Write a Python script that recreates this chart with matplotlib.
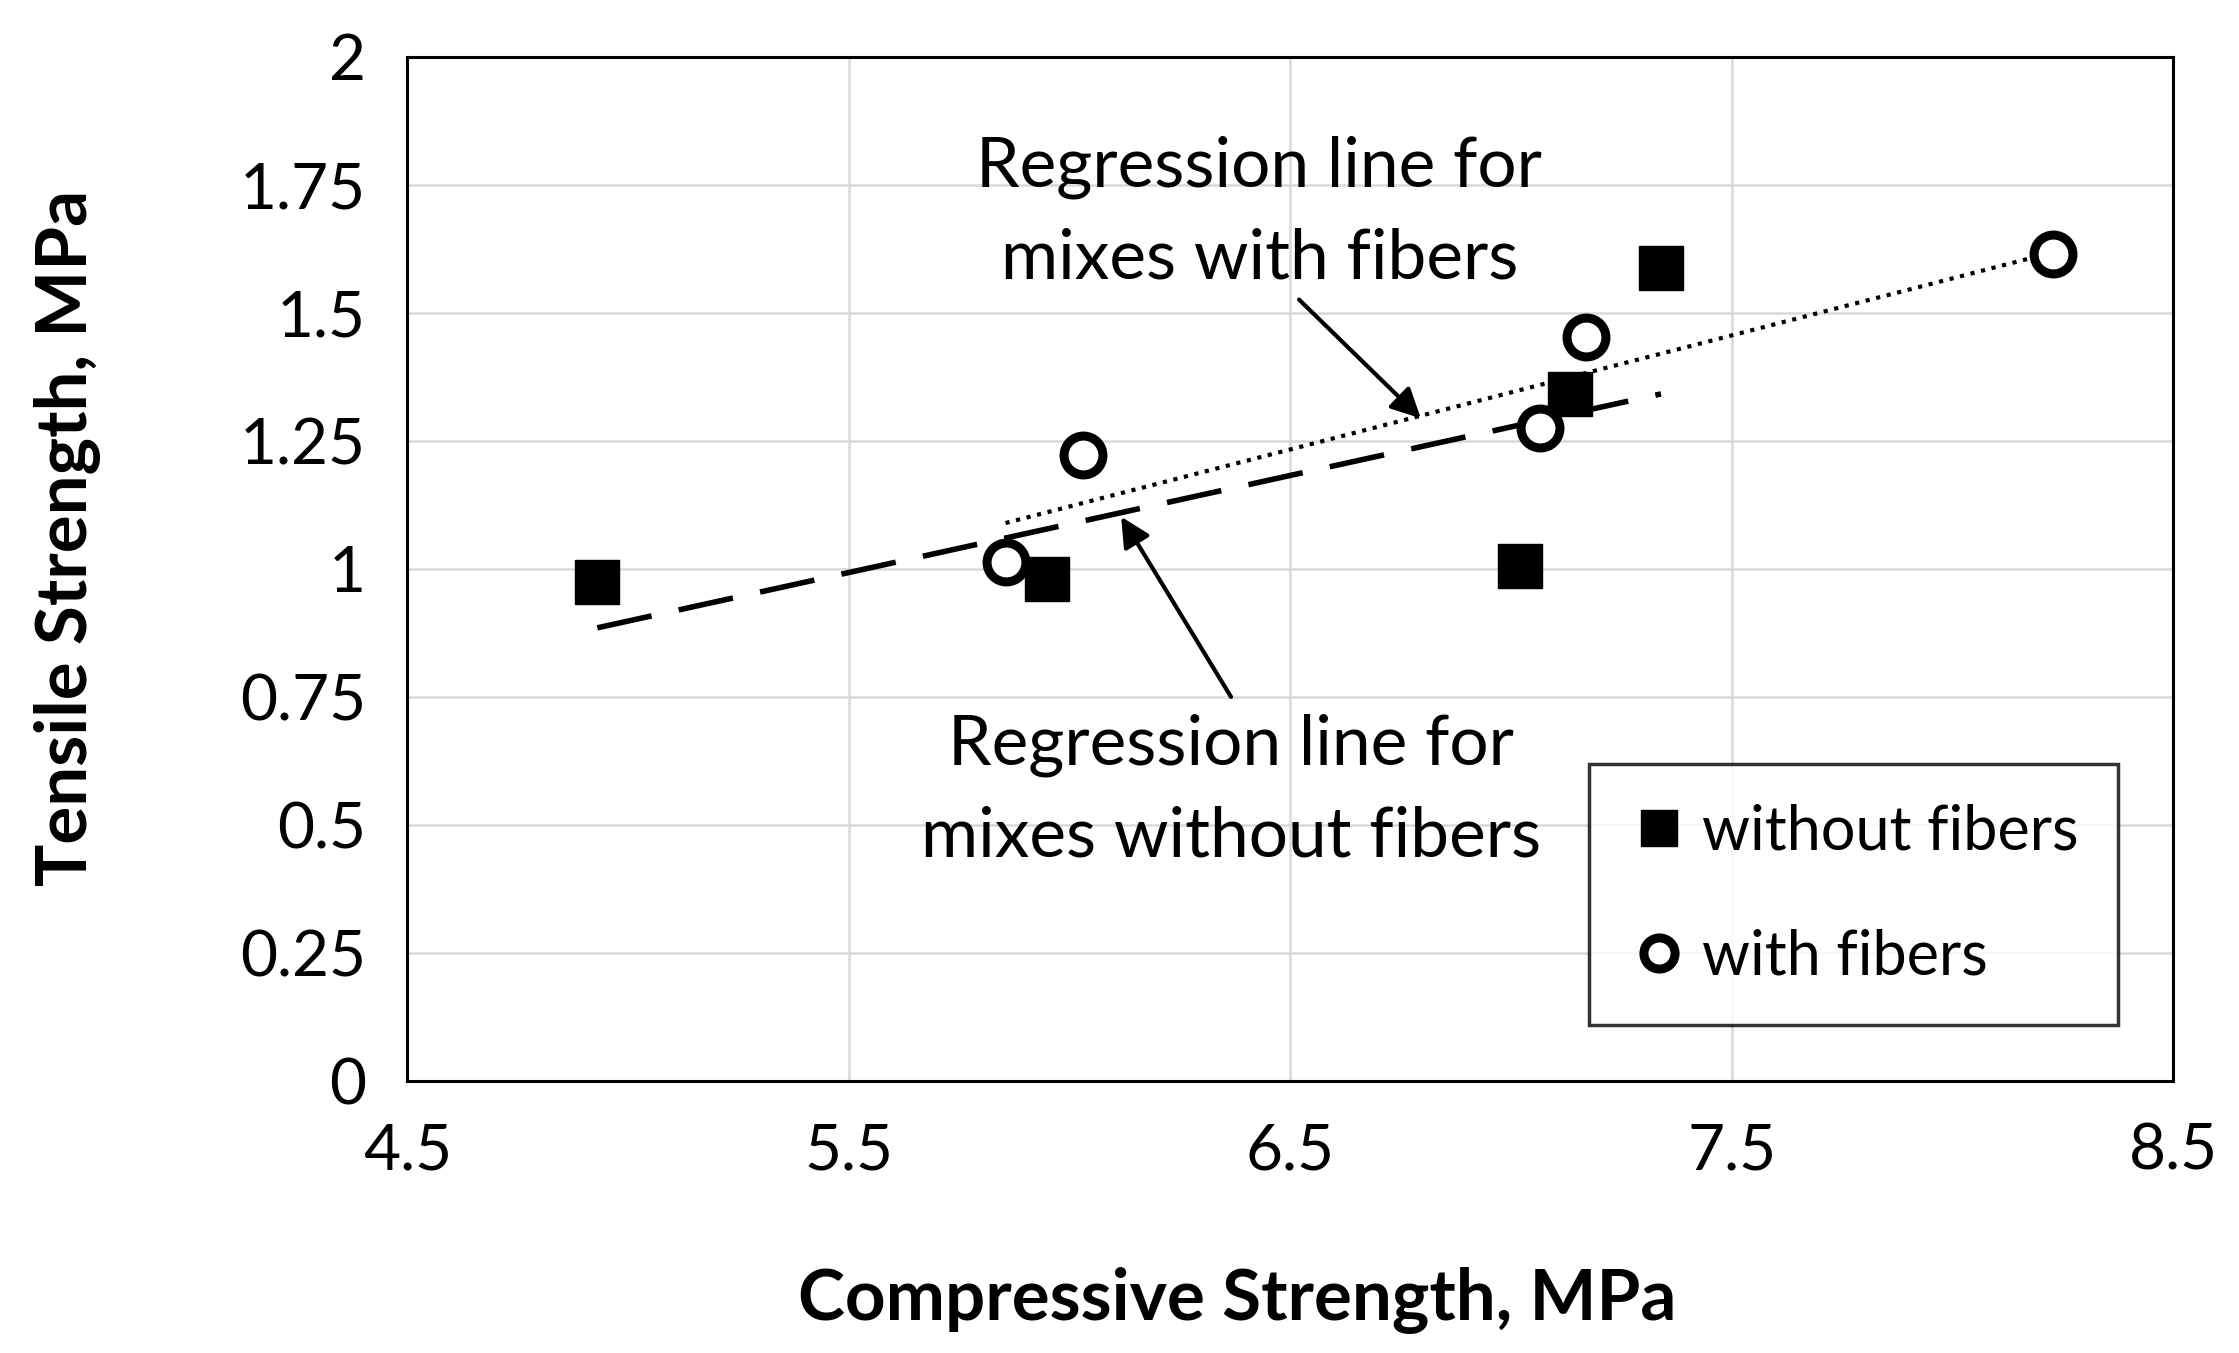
import numpy as np
import matplotlib
matplotlib.use("Agg")
from matplotlib import pyplot as plt

# data
comp_without = [4.93, 5.95, 7.02, 7.135, 7.34]
tens_without = [0.975, 0.98, 1.005, 1.342, 1.587]
comp_with = [5.855, 6.03, 7.065, 7.17, 8.228]
tens_with = [1.013, 1.222, 1.275, 1.453, 1.615]

x_ticks = [4.5, 5.5, 6.5, 7.5, 8.5]
x_tick_labels = ["4.5", "5.5", "6.5", "7.5", "8.5"]
y_ticks = [0, 0.25, 0.5, 0.75, 1, 1.25, 1.5, 1.75, 2]
y_tick_labels = ["0", "0.25", "0.5", "0.75", "1", "1.25", "1.5", "1.75", "2"]

plt.rcParams["font.family"] = ["Lato", "DejaVu Sans"]

fig = plt.figure(figsize=(22.39, 13.53), dpi=100)
ax = fig.add_axes([0.182, 0.201, 0.7885, 0.757])

# regression lines
a, b = np.polyfit(comp_without, tens_without, 1)
xs = np.array([min(comp_without), max(comp_without)])
ax.plot(xs, a * xs + b, color="black", lw=4, dashes=(10, 5), zorder=2)

a2, b2 = np.polyfit(comp_with, tens_with, 1)
xs2 = np.array([min(comp_with), max(comp_with)])
ax.plot(xs2, a2 * xs2 + b2, color="black", lw=3, dashes=(1, 1.6), zorder=2)

ax.plot(comp_without, tens_without, "s", color="black", ms=32, ls="none",
        label="without fibers", zorder=3)
ax.plot(comp_with, tens_with, "o", mfc="white", mec="black", mew=6.5, ms=28,
        ls="none", label="with fibers", zorder=3)

ax.set_xlim(4.5, 8.5)
ax.set_ylim(0, 2)
ax.set_xticks(x_ticks)
ax.set_xticklabels(x_tick_labels)
ax.set_yticks(y_ticks)
ax.set_yticklabels(y_tick_labels)
ax.tick_params(length=0, labelsize=46, pad=30)
ax.grid(color="#d9d9d9", lw=1.8)
ax.set_axisbelow(True)
for s in ax.spines.values():
    s.set_linewidth(2.2)
    s.set_color("black")

ax.set_xlabel("Compressive Strength, MPa", fontsize=51, fontweight="bold", labelpad=62)
ax.set_ylabel("Tensile Strength, MPa", fontsize=51, fontweight="bold", labelpad=100)
ax.xaxis.label.set_x(0.47)
ax.yaxis.label.set_y(0.53)

ax.text(6.43, 1.695, "Regression line for\nmixes with fibers", fontsize=50,
        ha="center", va="center", linespacing=1.55)
ax.text(6.366, 0.566, "Regression line for\nmixes without fibers", fontsize=50,
        ha="center", va="center", linespacing=1.55)
ax.annotate("", xy=(6.796, 1.294), xytext=(6.52, 1.526),
            arrowprops=dict(arrowstyle="-|>", color="black", lw=3, mutation_scale=45,
                            shrinkA=0, shrinkB=0))
ax.annotate("", xy=(6.117, 1.102), xytext=(6.366, 0.75),
            arrowprops=dict(arrowstyle="-|>", color="black", lw=3, mutation_scale=45,
                            shrinkA=0, shrinkB=0))

leg = ax.legend(loc="upper left", bbox_to_anchor=(0.669, 0.31), fontsize=44,
                frameon=True, fancybox=False, edgecolor="black", borderpad=0.65,
                labelspacing=1.12, handletextpad=0.2, handlelength=1.0,
                markerscale=0.8, borderaxespad=0)
leg.get_frame().set_linewidth(2.5)

plt.savefig("out.png", dpi=100)
